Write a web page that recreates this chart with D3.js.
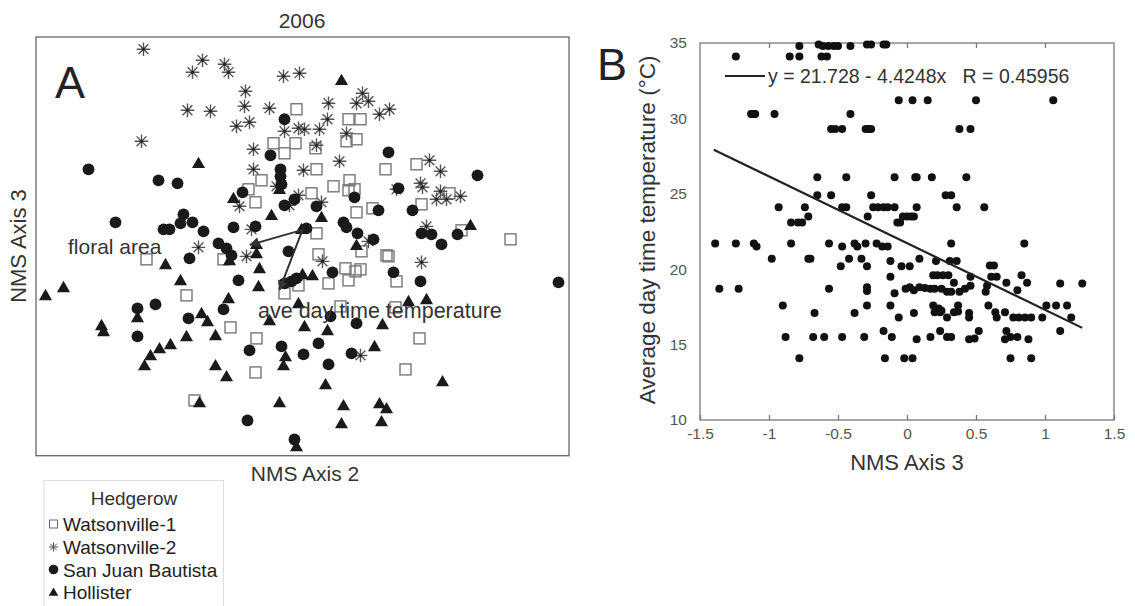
<!DOCTYPE html>
<html><head>
<meta charset="utf-8">
<title>2006 hedgerow NMS</title>
<script src="https://d3js.org/d3.v7.min.js"></script>
<style>
  body { margin: 0; background: #fff; }
  text { font-family: "Liberation Sans", Arial, sans-serif; }
</style>
</head>
<body>
<div id="chart"></div>
<script>

// ---------- panel A : NMS scores (axis 2, axis 3) per hedgerow ----------
var watson1 = [
  [-0.06,1.37],[-0.29,1.03],[-0.07,1.03],[-0.18,0.93],[-0.41,0.66],[-0.54,0.57],[-0.47,0.44],
  [0.46,1.27],[0.58,1.27],[0.44,1.05],[0.54,1.07],[0.13,0.98],[0.14,0.77],[0.83,0.77],[1.14,0.82],
  [0.47,0.66],[0.52,0.57],[0.46,0.56],[0.31,0.60],[0.09,0.53],[1.47,0.53],[1.19,0.42],[0.54,0.34],
  [0.70,0.38],[0.14,0.13],[1.59,0.16],[2.08,0.07],[-1.56,-0.13],[-0.79,-0.13],[-1.16,-0.49],
  [-0.18,-0.47],[-0.72,-0.81],[-0.46,-0.92],[-0.47,-1.26],[-1.08,-1.54],[0.16,-0.08],[0.59,-0.05],
  [0.84,-0.09],[0.86,-0.10],[0.43,-0.22],[0.53,-0.25],[0.58,-0.23],[0.46,-0.34],[0.26,-0.37],
  [0.94,-0.35],[-0.04,-0.39],[0.38,-0.60],[0.93,-0.61],[1.17,-0.92],[1.03,-1.23]
];
var watson2 = [
  [-1.59,1.97],[-1.00,1.86],[-1.10,1.74],[-0.78,1.82],[-0.74,1.74],[-0.19,1.70],[-0.03,1.73],
  [-0.57,1.55],[-1.15,1.36],[-0.92,1.35],[-0.58,1.40],[-0.33,1.38],[-0.66,1.20],[-0.53,1.24],
  [-0.18,1.15],[-0.04,1.18],[-1.61,1.05],[-0.49,0.97],[-0.49,0.77],[-0.26,0.60],[-0.63,0.40],
  [-0.51,0.17],[0.60,1.53],[0.54,1.43],[0.66,1.45],[0.26,1.43],[0.77,1.32],[0.87,1.37],[0.25,1.27],
  [0.02,1.17],[0.17,1.17],[0.44,1.13],[0.14,1.01],[0.37,0.85],[0.01,0.76],[1.27,0.86],[1.38,0.75],
  [1.18,0.63],[1.20,0.59],[0.94,0.57],[1.38,0.55],[1.34,0.47],[1.44,0.47],[1.58,0.50],[-0.04,0.51],
  [-0.13,0.41],[0.19,0.44],[1.24,0.20],[0.66,0.05],[-1.04,-0.01],[-0.56,-0.10],[0.20,-0.15],
  [1.19,-0.16],[0.58,-1.09]
];
var sanJuan = [
  [-0.18,1.27],[-0.32,0.91],[-2.14,0.77],[-1.44,0.66],[-1.25,0.63],[-0.22,0.77],[-0.22,0.70],
  [-0.21,0.62],[-0.60,0.54],[-0.18,0.41],[-0.08,0.47],[-1.19,0.32],[-1.22,0.23],[-1.10,0.24],
  [-1.87,0.24],[-1.39,0.17],[-1.33,0.17],[-0.99,0.15],[-0.69,0.19],[-0.47,0.20],[0.86,0.94],
  [1.75,0.71],[0.96,0.58],[0.52,0.49],[0.14,0.40],[0.76,0.36],[1.10,0.36],[0.41,0.24],[0.44,0.19],
  [0.55,0.13],[0.71,0.07],[1.19,0.13],[1.29,0.12],[1.55,0.12],[0.04,0.18],[-0.84,0.03],[-0.76,-0.02],
  [-0.71,-0.09],[-1.13,-0.12],[-0.14,-0.05],[-0.64,-0.34],[-1.65,-0.62],[-1.47,-0.58],[-0.79,-0.63],
  [-1.14,-0.72],[-1.65,-0.90],[-0.53,-1.04],[-0.21,-1.00],[-0.55,-1.74],[-0.08,-1.93],[1.39,0.02],
  [0.30,-0.26],[0.91,-0.26],[1.18,-0.35],[2.56,-0.36],[-0.11,-0.35],[-0.06,-0.32],[-0.18,-0.37],
  [0.28,-0.70],[0.54,-0.77],[0.16,-0.97],[0.01,-1.08],[0.26,-1.18],[0.49,-1.07]
];
var hollister = [
  [-1.04,0.83],[-0.69,0.48],[-0.31,0.31],[-0.23,0.57],[0.39,1.66],[0.19,0.29],[1.68,0.21],
  [-0.01,0.17],[-0.73,-0.14],[-1.37,-0.18],[-0.46,0.02],[-0.46,-0.07],[-0.43,-0.22],[-1.22,-0.34],
  [-0.44,-0.40],[-2.57,-0.49],[-2.39,-0.41],[-1.65,-0.71],[-0.74,-0.52],[-1.01,-0.67],[-0.95,-0.75],
  [-2.01,-0.79],[-1.99,-0.85],[-1.16,-0.90],[-0.87,-0.89],[-0.33,-0.74],[-1.32,-0.98],[-1.43,-1.02],
  [-1.52,-1.09],[-1.58,-1.19],[-0.17,-1.10],[-0.19,-1.19],[-0.87,-1.19],[-0.76,-1.30],[-1.03,-1.56],
  [-0.23,-1.56],[-0.06,-2.00],[0.54,0.01],[0.00,-0.28],[0.10,-0.29],[1.06,-0.55],[1.24,-0.53],
  [-0.04,-0.57],[0.02,-0.80],[0.25,-0.84],[0.80,-0.78],[0.72,-1.00],[0.23,-1.38],[1.40,-1.35],
  [0.41,-1.59],[0.77,-1.57],[0.84,-1.62],[0.39,-1.77],[0.79,-1.75]
];
var hedgerowNames = ["Watsonville-1", "Watsonville-2", "San Juan Bautista", "Hollister"];

// environmental vectors (joint plot)
var vectorOrigin = [0.0, 0.165];
var vectorNames = ["floral area", "ave day time temperature"];
var vectorEnds = [[-0.525, 0.015], [-0.23, -0.435]];

// ---------- panel B : NMS axis 3 vs average day time temperature ----------
var tempPoints = [
  [-0.78,34.8],[-0.64,34.9],[-0.61,34.8],[-0.57,34.8],[-0.53,34.8],[-0.50,34.8],[-0.41,34.8],[-0.29,34.9],[-0.26,34.9],[-0.17,34.9],[-0.15,34.9],
  [-1.24,34.1],[-0.85,34.1],[-0.78,34.1],[-0.62,34.1],[-0.58,34.1],
  [-0.06,31.2],[0.04,31.2],[0.15,31.2],[0.50,31.2],[1.06,31.2],
  [-1.13,30.3],[-1.11,30.3],[-1.10,30.3],[-0.96,30.3],[-0.41,30.3],
  [-0.55,29.3],[-0.52,29.3],[-0.47,29.3],[-0.30,29.3],[-0.28,29.3],[-0.26,29.3],[0.38,29.3],[0.46,29.3],
  [-0.65,26.1],[-0.44,26.1],[-0.09,26.1],[0.06,26.1],[0.07,26.1],[0.18,26.1],[0.43,26.1],
  [-0.65,24.9],[-0.55,24.9],[-0.26,24.9],[0.28,24.9],[0.32,24.9],
  [-0.93,24.1],[-0.74,24.1],[-0.47,24.1],[-0.44,24.1],[-0.245,24.1],[-0.21,24.1],[-0.17,24.1],[-0.14,24.1],[-0.09,24.1],[0.07,24.1],[0.36,24.1],[0.56,24.1],
  [-0.715,23.5],[-0.285,23.5],[-0.03,23.5],[0.00,23.5],[0.03,23.5],[0.05,23.5],
  [-0.84,23.1],[-0.79,23.1],[-0.76,23.1],[-0.07,23.1],[-0.05,23.1],
  [-1.39,21.7],[-1.24,21.7],[-1.11,21.7],[-0.84,21.7],[-0.565,21.7],[-0.38,21.7],[-0.30,21.7],[-0.22,21.7],[0.32,21.7],[0.85,21.7],
  [-1.09,21.5],[-0.47,21.5],[-0.36,21.5],[-0.18,21.5],[-0.14,21.5],
  [-0.98,20.7],[-0.715,20.7],[-0.70,20.7],[-0.42,20.7],[-0.33,20.7],[0.09,20.7],
  [-0.12,20.55],[0.21,20.55],[0.31,20.55],[0.36,20.55],
  [-0.48,20.2],[-0.29,20.2],[-0.04,20.2],[0.02,20.2],[0.60,20.25],[0.63,20.25],
  [-0.12,19.5],[0.46,19.5],[0.61,19.5],[0.65,19.5],
  [0.19,19.6],[0.22,19.6],[0.26,19.6],[0.30,19.6],[0.83,19.6],
  [0.34,19.1],[0.72,19.1],[0.87,19.1],[1.11,19.05],[1.27,19.05],
  [-1.36,18.7],[-1.22,18.7],[-0.565,18.7],[-0.29,18.8],[-0.01,18.7],[0.02,18.8],[0.05,18.6],[0.09,18.8],[0.13,18.75],[0.17,18.7],[0.20,18.7],[0.25,18.7],[0.42,18.7],[0.80,18.6],
  [0.46,18.9],[0.58,18.9],
  [-0.29,18.55],[0.29,18.5],[0.32,18.5],[0.38,18.5],[0.57,18.5],
  [-0.09,18.4],
  [-0.90,17.6],[-0.29,17.6],[-0.12,17.6],[0.19,17.6],[0.37,17.6],[0.59,17.6],[1.01,17.6],[1.08,17.6],[1.16,17.6],
  [0.23,17.4],[0.25,17.25],
  [-0.67,17.1],[-0.38,17.1],[0.05,17.1],[0.20,17.15],[0.24,17.15],[0.34,17.15],[0.37,17.2],[0.45,17.1],[0.64,17.15],[0.71,17.15],
  [-0.06,16.8],[0.29,16.8],[0.45,16.8],[0.65,16.8],[0.77,16.8],[0.81,16.8],[0.855,16.8],[0.90,16.8],[0.98,16.8],[1.19,16.8],
  [-0.17,15.9],[0.24,15.9],[0.52,15.9],[0.72,15.9],[1.11,15.9],
  [-0.88,15.5],[-0.68,15.5],[-0.60,15.5],[-0.47,15.5],[-0.31,15.5],[-0.11,15.5],[0.17,15.5],[0.29,15.5],[0.32,15.5],[0.75,15.5],[0.80,15.5],[0.88,15.35],
  [0.07,15.35],[0.45,15.35],[0.49,15.4],[0.71,15.35],
  [-0.78,14.1],[-0.16,14.1],[-0.02,14.1],[0.04,14.1],[0.75,14.1],[0.90,14.1]
];
var xTicksB = [-1.5, -1, -0.5, 0, 0.5, 1, 1.5];
var yTicksB = [10, 15, 20, 25, 30, 35];
var fitIntercept = 21.728;
var fitSlope = -4.4248;
var fitRange = [-1.4, 1.27];
var fitR = 0.45956;

var W = 1135, H = 606;
var svg = d3.select("#chart").append("svg")
    .attr("width", W).attr("height", H);

// ================= panel A =================
var xA = d3.scaleLinear().domain([-2.665, 2.665]).range([36, 569]);
var yA = d3.scaleLinear().domain([-2.092, 2.092]).range([455.7, 37]);

svg.append("rect")
    .attr("x", 36).attr("y", 37)
    .attr("width", 533).attr("height", 418.7)
    .attr("fill", "none").attr("stroke", "#666").attr("stroke-width", 1.3);

function asterisk(r) {
  var a = r * 0.72;
  return "M0," + (-r) + "L0," + r + "M" + (-r) + ",0L" + r + ",0" +
         "M" + (-a) + "," + (-a) + "L" + a + "," + a + "M" + (-a) + "," + a + "L" + a + "," + (-a);
}
var triangle = d3.symbol().type(d3.symbolTriangle).size(74);

// Watsonville-1: open squares
svg.append("g").selectAll("rect").data(watson1).enter().append("rect")
    .attr("x", function(d) { return xA(d[0]) - 5.5; })
    .attr("y", function(d) { return yA(d[1]) - 5.5; })
    .attr("width", 11).attr("height", 11)
    .attr("fill", "none").attr("stroke", "#777").attr("stroke-width", 1.4);

// Watsonville-2: asterisks
var ast = svg.append("g").selectAll("g").data(watson2).enter().append("g")
    .attr("transform", function(d) { return "translate(" + xA(d[0]) + "," + yA(d[1]) + ")"; });
ast.append("path").attr("d", asterisk(6.8))
    .attr("stroke", "#555").attr("stroke-width", 1.4).attr("fill", "none");
ast.append("circle").attr("r", 1.5).attr("fill", "#222");

// San Juan Bautista: filled circles
svg.append("g").selectAll("circle").data(sanJuan).enter().append("circle")
    .attr("cx", function(d) { return xA(d[0]); })
    .attr("cy", function(d) { return yA(d[1]); })
    .attr("r", 5.9).attr("fill", "#1a1a1a");

// Hollister: filled triangles
svg.append("g").selectAll("path").data(hollister).enter().append("path")
    .attr("d", triangle)
    .attr("transform", function(d) { return "translate(" + xA(d[0]) + "," + (yA(d[1]) + 1) + ")"; })
    .attr("fill", "#1a1a1a");

// vectors
svg.append("defs").append("marker")
    .attr("id", "arr").attr("viewBox", "0 0 10 10")
    .attr("refX", 9).attr("refY", 5)
    .attr("markerWidth", 5).attr("markerHeight", 5)
    .attr("orient", "auto")
  .append("path").attr("d", "M0,0L10,5L0,10z").attr("fill", "#333");

svg.append("g").selectAll("line").data(vectorEnds).enter().append("line")
    .attr("x1", xA(vectorOrigin[0])).attr("y1", yA(vectorOrigin[1]))
    .attr("x2", function(d) { return xA(d[0]); })
    .attr("y2", function(d) { return yA(d[1]); })
    .attr("stroke", "#333").attr("stroke-width", 2)
    .attr("marker-end", "url(#arr)");

svg.append("text").attr("x", 68).attr("y", 254)
    .style("font-size", "21px").attr("fill", "#333").text(vectorNames[0]);
svg.append("text").attr("x", 258).attr("y", 318)
    .style("font-size", "21.5px").attr("fill", "#333").text(vectorNames[1]);

// titles / labels
svg.append("text").attr("x", 302).attr("y", 28).attr("text-anchor", "middle")
    .style("font-size", "21px").attr("fill", "#333").text("2006");
svg.append("text").attr("x", 55).attr("y", 98)
    .style("font-size", "45px").attr("fill", "#222").text("A");
svg.append("text").attr("x", 305).attr("y", 481).attr("text-anchor", "middle")
    .style("font-size", "21px").attr("fill", "#333").text("NMS Axis 2");
svg.append("text")
    .attr("transform", "translate(26,246) rotate(-90)")
    .attr("text-anchor", "middle")
    .style("font-size", "22px").attr("fill", "#333").text("NMS Axis 3");

// legend
var leg = svg.append("g");
leg.append("rect").attr("x", 44).attr("y", 480.5).attr("width", 179.5).attr("height", 140)
    .attr("fill", "none").attr("stroke", "#ddd").attr("stroke-width", 1);
leg.append("text").attr("x", 134).attr("y", 505).attr("text-anchor", "middle")
    .style("font-size", "19px").attr("fill", "#333").text("Hedgerow");
var legY = [524, 547, 569.5, 592];
leg.selectAll("text.item").data(hedgerowNames).enter().append("text")
    .attr("class", "item")
    .attr("x", 63).attr("y", function(d, i) { return legY[i] + 7; })
    .style("font-size", "19px").attr("fill", "#222").text(function(d) { return d; });
leg.append("rect").attr("x", 49.5).attr("y", legY[0] - 4).attr("width", 8).attr("height", 8)
    .attr("fill", "none").attr("stroke", "#666").attr("stroke-width", 1);
leg.append("path").attr("transform", "translate(53.5," + legY[1] + ")").attr("d", asterisk(4.5))
    .attr("stroke", "#555").attr("stroke-width", 1).attr("fill", "none");
leg.append("circle").attr("cx", 53.5).attr("cy", legY[2]).attr("r", 4.8).attr("fill", "#1a1a1a");
leg.append("path").attr("transform", "translate(53.5," + (legY[3] + 1) + ")")
    .attr("d", d3.symbol().type(d3.symbolTriangle).size(40)).attr("fill", "#1a1a1a");

// ================= panel B =================
var xB = d3.scaleLinear().domain([-1.5, 1.5]).range([700, 1114]);
var yB = d3.scaleLinear().domain([10, 35]).range([420, 43]);

var gB = svg.append("g");

gB.append("rect")
    .attr("x", xB(-1.5)).attr("y", yB(35))
    .attr("width", xB(1.5) - xB(-1.5)).attr("height", yB(10) - yB(35))
    .attr("fill", "none").attr("stroke", "#777").attr("stroke-width", 1.3);

var fmt = function(d) { return String(d); };

var bottomAxis = gB.append("g").attr("transform", "translate(0," + yB(10) + ")")
    .call(d3.axisBottom(xB).tickValues(xTicksB).tickFormat(fmt).tickSizeInner(-5).tickSizeOuter(0).tickPadding(8));
var topAxis = gB.append("g").attr("transform", "translate(0," + yB(35) + ")")
    .call(d3.axisTop(xB).tickValues(xTicksB.slice(1, -1)).tickFormat("").tickSizeInner(-5).tickSizeOuter(0));
var leftAxis = gB.append("g").attr("transform", "translate(" + xB(-1.5) + ",0)")
    .call(d3.axisLeft(yB).tickValues(yTicksB).tickFormat(fmt).tickSizeInner(0).tickSizeOuter(0).tickPadding(13));

[bottomAxis, topAxis, leftAxis].forEach(function(a) {
  a.select(".domain").remove();
  a.selectAll("line").attr("stroke", "#777").attr("stroke-width", 1.3);
  a.selectAll("text").style("font-size", "15.5px").style("font-family", "'Liberation Sans', Arial, sans-serif").attr("fill", "#555");
});

gB.append("g").selectAll("circle").data(tempPoints).enter().append("circle")
    .attr("cx", function(d) { return xB(d[0]); })
    .attr("cy", function(d) { return yB(d[1]); })
    .attr("r", 4).attr("fill", "#111");

// regression line
gB.append("line")
    .attr("x1", xB(fitRange[0])).attr("y1", yB(fitIntercept + fitSlope * fitRange[0]))
    .attr("x2", xB(fitRange[1])).attr("y2", yB(fitIntercept + fitSlope * fitRange[1]))
    .attr("stroke", "#222").attr("stroke-width", 2.2);

// equation legend
gB.append("line").attr("x1", 725).attr("x2", 765).attr("y1", 76).attr("y2", 76)
    .attr("stroke", "#222").attr("stroke-width", 2);
gB.append("text").attr("x", 768).attr("y", 83)
    .style("font-size", "19.5px").attr("fill", "#333")
    .attr("xml:space", "preserve")
    .text("y = " + fitIntercept + " - " + (-fitSlope) + "x   R = " + fitR);

gB.append("text").attr("x", 597).attr("y", 80)
    .style("font-size", "45px").attr("fill", "#222").text("B");
gB.append("text").attr("x", 907).attr("y", 470).attr("text-anchor", "middle")
    .style("font-size", "22px").attr("fill", "#333").text("NMS Axis 3");
gB.append("text")
    .attr("transform", "translate(655,230) rotate(-90)")
    .attr("text-anchor", "middle")
    .style("font-size", "22.5px").attr("fill", "#333").text("Average day time temperature (\u00B0C)");

</script>
</body></html>
